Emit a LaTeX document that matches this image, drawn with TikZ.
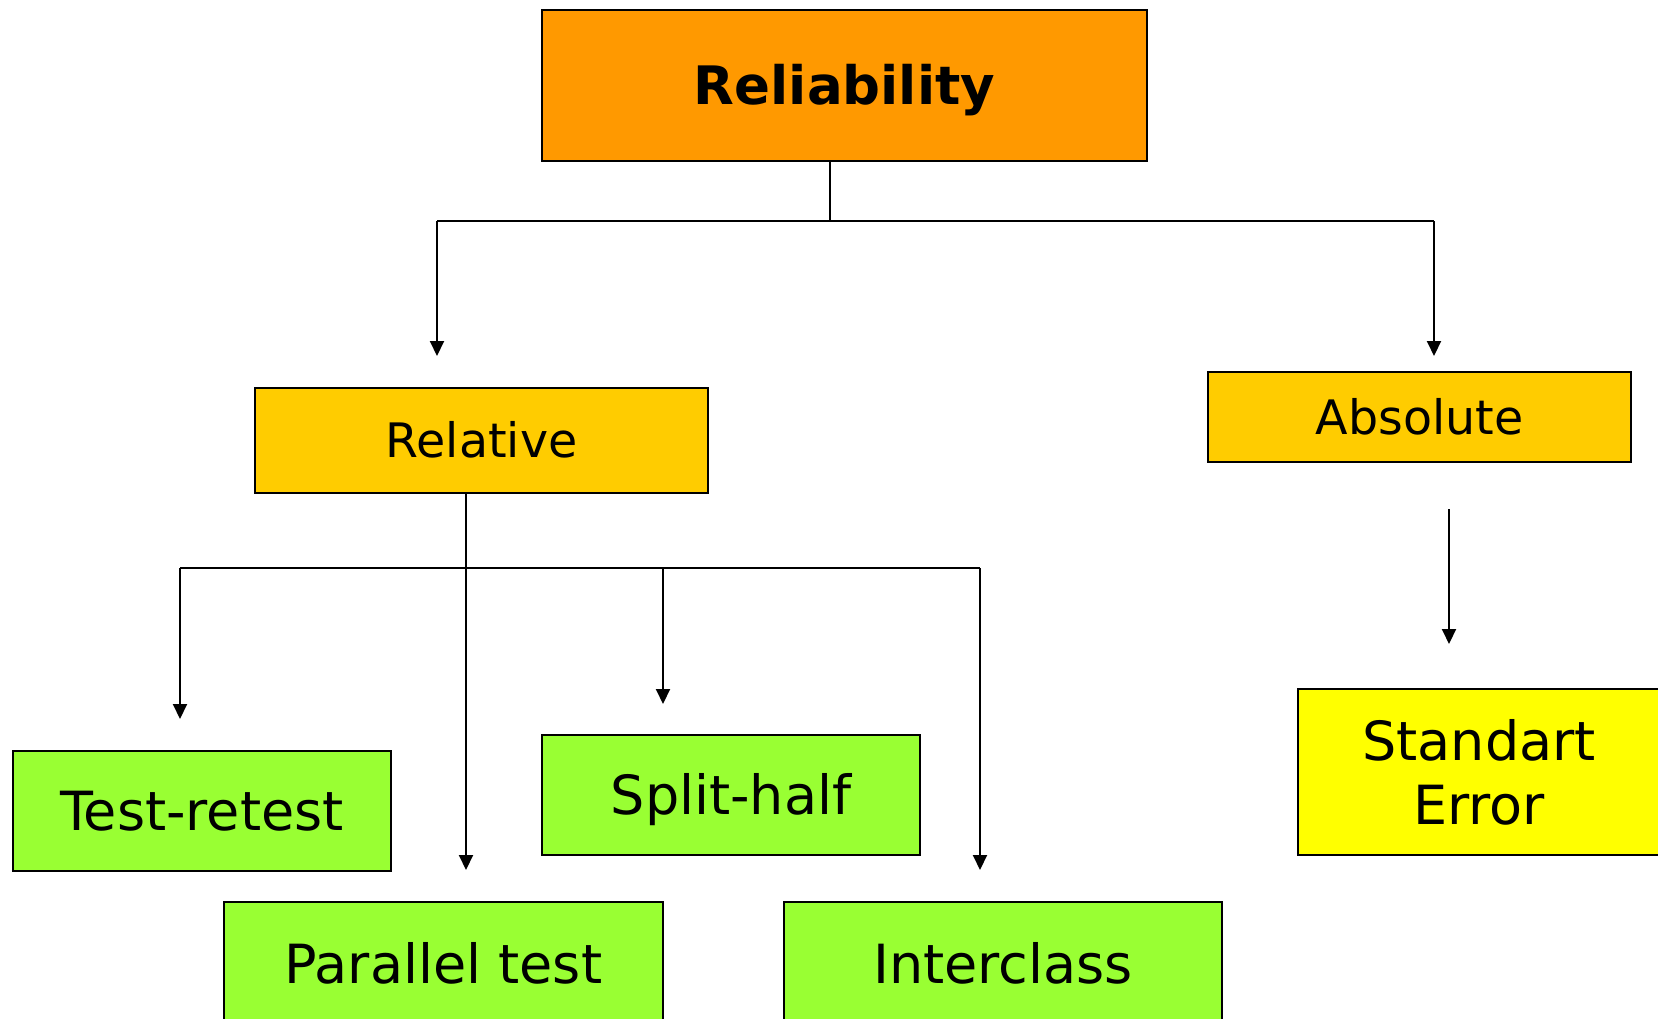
\documentclass[tikz,border=0pt]{standalone}
\usepackage{fontspec}
\setmainfont{DejaVu Sans}
\usetikzlibrary{arrows.meta}
\definecolor{cOrange}{HTML}{FF9900}
\definecolor{cGold}{HTML}{FFCC00}
\definecolor{cGreen}{HTML}{99FF33}
\definecolor{cYellow}{HTML}{FFFF00}
\begin{document}
\begin{tikzpicture}[x=1pt,y=-1pt,
  box/.style={draw=black,line width=2pt,inner sep=0pt,anchor=center},
  topbox/.style={box,fill=cOrange,font=\fontsize{53}{62}\selectfont\bfseries,text height=38pt,text depth=0pt},
  midbox/.style={box,fill=cGold,font=\fontsize{47.5}{56}\selectfont,text height=34pt,text depth=0pt},
  leafbox/.style={box,fill=cGreen,font=\fontsize{54}{62}\selectfont,text height=39pt,text depth=0pt},
  sebox/.style={box,fill=cYellow,font=\fontsize{54}{64}\selectfont,align=center},
  conn/.style={line width=2pt},
  arr/.style={line width=2pt,-{Triangle[length=15pt,width=14pt]}}
]
\useasboundingbox (0,0) rectangle (1658,1018);
\clip (0,0) rectangle (1658,1018);
\fill[white] (0,0) rectangle (1658,1018);

% nodes
\node[topbox,minimum width=605pt,minimum height=151pt] (rel) at (844.5,85) {Reliability};
\node[midbox,minimum width=453pt,minimum height=105pt] (relat) at (481.5,440.5) {Relative};
\node[midbox,minimum width=423pt,minimum height=90pt] (abs) at (1419.5,417) {Absolute};
\node[leafbox,minimum width=378pt,minimum height=120pt] (tr) at (202,811) {Test-retest};
\node[leafbox,minimum width=378pt,minimum height=120pt] (sh) at (731,795) {Split-half};
\node[leafbox,minimum width=439pt,minimum height=124pt] (pt) at (443.5,964) {Parallel test};
\node[leafbox,minimum width=438pt,minimum height=124pt] (ic) at (1003,964) {Interclass};
\node[sebox,minimum width=362pt,minimum height=166pt] (se) at (1479,772) {Standart\\Error};

% junction coordinates and free arrow ends
\coordinate (j1) at (830,221);
\coordinate (jl) at (437,221);
\coordinate (jr) at (1434,221);
\coordinate (al) at (437,356);
\coordinate (ar) at (1434,356);
\coordinate (t2) at (466,870);
\coordinate (h1) at (180,568);
\coordinate (h3) at (663,568);
\coordinate (h4) at (980,568);
\coordinate (a1) at (180,719);
\coordinate (a3) at (663,704);
\coordinate (a4) at (980,870);
\coordinate (s0) at (1449,509);
\coordinate (s1) at (1449,644);

% connectors
\draw[conn] (rel.south -| j1) -- (j1);
\draw[conn] (jl) -- (jr);
\draw[arr] (jl) -- (al);
\draw[arr] (jr) -- (ar);
\draw[arr] (relat.south -| t2) -- (t2);
\draw[conn] (h1) -- (h4);
\draw[arr] (h1) -- (a1);
\draw[arr] (h3) -- (a3);
\draw[arr] (h4) -- (a4);
\draw[arr] (s0) -- (s1);
\end{tikzpicture}
\end{document}
